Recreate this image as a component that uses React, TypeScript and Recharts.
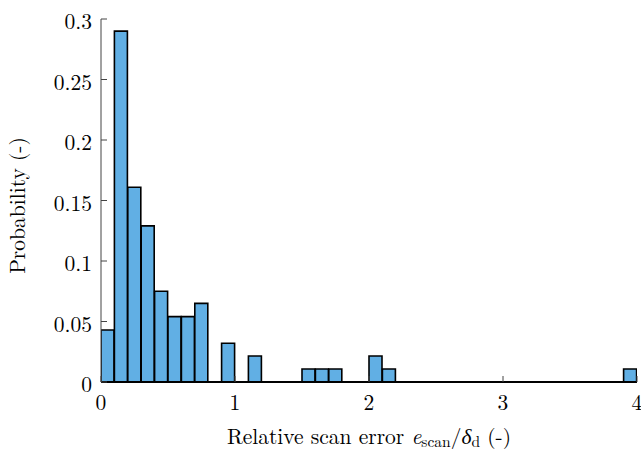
import React from 'react';
import { BarChart, Bar, XAxis, YAxis } from 'recharts';

// Histogram bins (width 0.1) – bin centres of relative scan error
const binCenters = [
  0.05, 0.15, 0.25, 0.35, 0.45, 0.55, 0.65, 0.75, 0.85, 0.95,
  1.05, 1.15, 1.25, 1.35, 1.45, 1.55, 1.65, 1.75, 1.85, 1.95,
  2.05, 2.15, 2.25, 2.35, 2.45, 2.55, 2.65, 2.75, 2.85, 2.95,
  3.05, 3.15, 3.25, 3.35, 3.45, 3.55, 3.65, 3.75, 3.85, 3.95,
];

const probabilities = [
  0.043, 0.29, 0.161, 0.129, 0.075, 0.054, 0.054, 0.065, 0, 0.032,
  0, 0.0215, 0, 0, 0, 0.0108, 0.0108, 0.0108, 0, 0,
  0.0215, 0.0108, 0, 0, 0, 0, 0, 0, 0, 0,
  0, 0, 0, 0, 0, 0, 0, 0, 0, 0.0108,
];

const xTicks = [0, 1, 2, 3, 4];
const yTicks = [0, 0.05, 0.1, 0.15, 0.2, 0.25, 0.3];

const data = binCenters.map((c, i) => ({ center: c, p: probabilities[i] }));

const FONT = '"Latin Modern Roman"';
const FS = 21.5;
const SUB = 15.5;

const XTick = (props: any) => {
  const { x, y, payload } = props;
  return (
    <text x={x} y={y + 14} textAnchor="middle" fontFamily={FONT} fontSize={FS} fill="#000">
      {payload.value}
    </text>
  );
};

const YTick = (props: any) => {
  const { x, y, payload } = props;
  return (
    <text x={x} y={y + 10} textAnchor="end" fontFamily={FONT} fontSize={FS} fill="#000">
      {payload.value}
    </text>
  );
};

const YLabel = (props: any) => {
  const vb = props.viewBox || {};
  const cx = vb.x + 25;
  const cy = vb.y + vb.height / 2 + 5;
  return (
    <text
      x={cx}
      y={cy}
      transform={`rotate(-90, ${cx}, ${cy})`}
      textAnchor="middle"
      fontFamily={FONT}
      fontSize={FS}
      fill="#000"
    >
      Probability (-)
    </text>
  );
};

const XLabel = (props: any) => {
  const vb = props.viewBox || {};
  const cx = vb.x + vb.width / 2;
  const cy = vb.y + 62;
  return (
    <text x={cx} y={cy} textAnchor="middle" fontFamily={FONT} fontSize={FS} fill="#000">
      Relative scan error{' '}
      <tspan fontStyle="italic">e</tspan>
      <tspan fontSize={SUB} dy={3}>scan</tspan>
      <tspan dy={-3}>/</tspan>
      <tspan fontStyle="italic">δ</tspan>
      <tspan fontSize={SUB} dy={3}>d</tspan>
      <tspan dy={-3}>{'  (-)'}</tspan>
    </text>
  );
};

export default function App() {
  return (
    <div style={{ position: 'absolute', left: 0, top: 0, width: 641, height: 451, background: '#fff' }}>
      <BarChart
        width={641}
        height={451}
        data={data}
        margin={{ top: 19, right: 4, bottom: 0, left: 0 }}
        barCategoryGap={0}
        barGap={0}
      >
        <XAxis
          type="number"
          dataKey="center"
          domain={[0, 4]}
          ticks={xTicks}
          allowDataOverflow
          height={69}
          tickSize={-6}
          tickMargin={20}
          axisLine={{ stroke: '#000', strokeWidth: 2 }}
          tickLine={{ stroke: '#444', strokeWidth: 1 }}
          tick={<XTick />}
          label={<XLabel />}
        />
        <YAxis
          type="number"
          domain={[0, 0.3]}
          ticks={yTicks}
          width={101}
          tickSize={-6}
          tickMargin={15}
          axisLine={{ stroke: '#444', strokeWidth: 1 }}
          tickLine={{ stroke: '#444', strokeWidth: 1 }}
          tick={<YTick />}
          label={<YLabel />}
        />
        <Bar
          dataKey="p"
          fill="#61AFE4"
          stroke="#000"
          strokeWidth={1.6}
          isAnimationActive={false}
        />
      </BarChart>
    </div>
  );
}
